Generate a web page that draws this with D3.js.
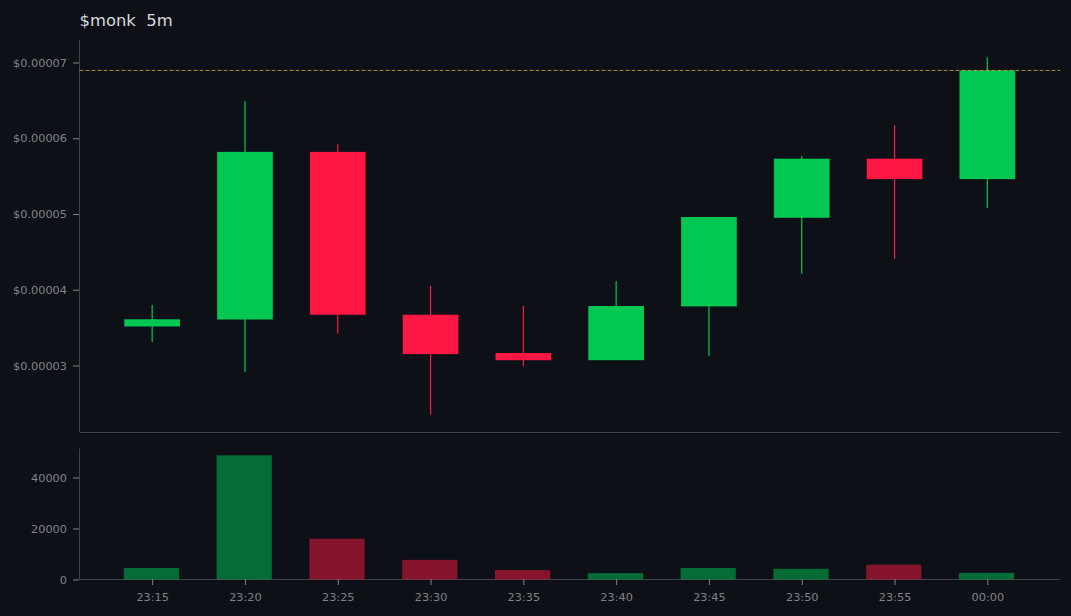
<!DOCTYPE html>
<html>
<head>
<meta charset="utf-8">
<script src="https://cdn.jsdelivr.net/npm/d3@7"></script>
<style>
  html, body { margin: 0; padding: 0; background: #0d1117; }
  svg { display: block; }
  text { font-family: "DejaVu Sans", sans-serif; }
  .tick text { fill: #808287; font-size: 11.3px; }
  .tick line { stroke: #808287; }
  .domain { stroke: #3e4146; }
</style>
</head>
<body>
<svg id="chart" width="1071" height="616"></svg>
<script>
const times = ['23:15', '23:20', '23:25', '23:30', '23:35', '23:40', '23:45', '23:50', '23:55', '00:00'];
const opens = [3.515, 3.607, 5.82, 3.67, 3.165, 3.07, 3.78, 4.95, 5.73, 5.46];
const closes = [3.61, 5.82, 3.67, 3.15, 3.07, 3.785, 4.96, 5.73, 5.46, 6.895];
const highs = [3.80, 6.49, 5.92, 4.05, 3.785, 4.115, 4.96, 5.765, 6.175, 7.07];
const lows = [3.31, 2.91, 3.42, 2.35, 2.99, 3.07, 3.125, 4.21, 4.405, 5.08];
const volumes = [4500, 48700, 16000, 7700, 3700, 2500, 4500, 4200, 5800, 2600];
const lastPrice = 6.895;
const priceTicks = [3, 4, 5, 6, 7];
const volumeTicks = [0, 20000, 40000];

const GREEN = '#00c853';
const RED = '#ff1744';

const svg = d3.select('#chart');

const left = 79.5, right = 1060;
const priceTop = 39, priceBottom = 432;
const volTop = 448, volBottom = 579.5;
const bodyWidth = 0.6;

const x = d3.scaleLinear().domain([-0.783, 9.783]).range([left, right]);
const y = d3.scaleLinear().domain([2.122, 7.31]).range([priceBottom, priceTop]);
const yVol = d3.scaleLinear().domain([0, 51570]).range([volBottom, volTop]);

const color = (i) => closes[i] >= opens[i] ? GREEN : RED;

// price panel
svg.append('g')
    .attr('transform', `translate(${left - 0.5},0)`)
    .call(d3.axisLeft(y).tickValues(priceTicks).tickSizeInner(6).tickSizeOuter(0).tickPadding(6)
        .tickFormat((d) => '$' + (d / 100000).toFixed(5)));

svg.append('g')
    .attr('transform', `translate(0,${priceBottom})`)
    .call(d3.axisBottom(x).tickValues([]).tickSize(0));

const candles = svg.append('g').selectAll('g')
    .data(times)
    .enter()
    .append('g');

candles.append('line')
    .attr('x1', (d, i) => x(i))
    .attr('x2', (d, i) => x(i))
    .attr('y1', (d, i) => y(highs[i]))
    .attr('y2', (d, i) => y(lows[i]))
    .attr('stroke', (d, i) => color(i))
    .attr('stroke-width', 1.2);

candles.append('rect')
    .attr('x', (d, i) => x(i - bodyWidth / 2))
    .attr('width', x(bodyWidth) - x(0))
    .attr('y', (d, i) => y(Math.max(opens[i], closes[i])))
    .attr('height', (d, i) => Math.abs(y(opens[i]) - y(closes[i])))
    .attr('fill', (d, i) => color(i));

// last price line
svg.append('line')
    .attr('x1', left)
    .attr('x2', right)
    .attr('y1', y(lastPrice))
    .attr('y2', y(lastPrice))
    .attr('stroke', '#d4ae3a')
    .attr('stroke-width', 0.8)
    .attr('stroke-dasharray', '4 2');

svg.append('text')
    .attr('x', left)
    .attr('y', 26)
    .attr('fill', '#d8dade')
    .style('font-size', '16.4px')
    .style('white-space', 'pre')
    .text('$monk  5m');

// volume panel
svg.append('g')
    .attr('transform', `translate(${left - 0.5},0)`)
    .call(d3.axisLeft(yVol).tickValues(volumeTicks).tickSizeInner(6).tickSizeOuter(0).tickPadding(6)
        .tickFormat(d3.format('d')));

svg.append('g')
    .attr('transform', `translate(0,${volBottom - 0.5})`)
    .call(d3.axisBottom(x).tickValues(d3.range(times.length)).tickSizeInner(6).tickSizeOuter(0).tickPadding(8)
        .tickFormat((d) => times[d]));

svg.append('g').selectAll('rect')
    .data(volumes)
    .enter()
    .append('rect')
    .attr('x', (d, i) => x(i - bodyWidth / 2) - 0.5)
    .attr('width', x(bodyWidth) - x(0) - 0.5)
    .attr('y', (d) => yVol(d))
    .attr('height', (d) => volBottom - yVol(d))
    .attr('fill', (d, i) => color(i))
    .attr('fill-opacity', 0.5);
</script>
</body>
</html>
